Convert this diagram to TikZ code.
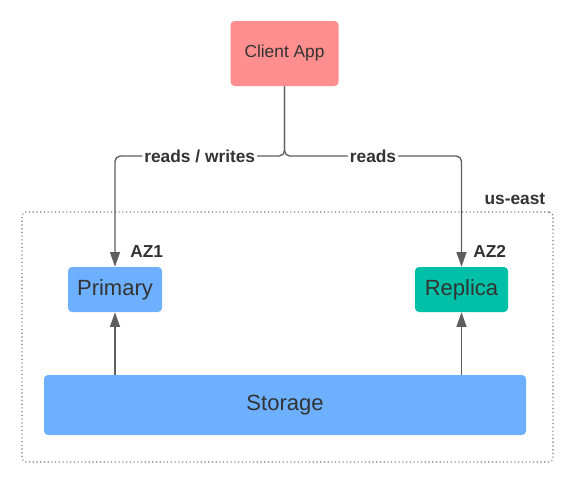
\documentclass[tikz,border=0pt]{standalone}
\usepackage{fontspec}
\setmainfont{Liberation Sans}
\usetikzlibrary{arrows.meta}
\definecolor{clientred}{HTML}{FF8F8F}
\definecolor{nodeblue}{HTML}{6CB0FF}
\definecolor{replicateal}{HTML}{00C1A8}
\definecolor{textgray}{HTML}{333333}
\definecolor{linegray}{HTML}{5E5E5E}
\definecolor{regiongray}{HTML}{707070}

\begin{document}
\begin{tikzpicture}[x=0.75pt,y=-0.75pt]

\tikzset{
  box/.style={rounded corners=3pt, inner sep=0pt, text=textgray, font=\fontsize{16.5}{19}\selectfont},
  link/.style={draw=linegray, line width=1pt, -{Triangle[length=11pt,width=7.5pt]}},
  tag/.style={font=\bfseries\fontsize{13}{15}\selectfont, text=textgray, inner sep=0pt},
}
\useasboundingbox (0,0) rectangle (574,483);

\node[draw=regiongray, line width=0.8pt, dotted, rounded corners=3pt, minimum width=398.25pt, minimum height=187.5pt] (Region) at (287.5,337) {};
\node[box, fill=clientred, minimum width=81pt, minimum height=48.75pt, font=\fontsize{13}{15}\selectfont] (Client) at (284.5,53.5) {Client App};
\node[box, fill=nodeblue, minimum width=70.5pt, minimum height=33.75pt] (Primary) at (115,289.5) {Primary};
\node[box, fill=replicateal, minimum width=69.75pt, minimum height=33.75pt] (Replica) at (461.5,289.5) {Replica};
\node[box, fill=nodeblue, minimum width=361.5pt, minimum height=45pt] (Storage) at (285,405) {Storage};

\node[tag, anchor=base east] at ([xshift=-6pt,yshift=5.25pt]Region.north east) {us-east};
\node[tag, anchor=base east] at ([xshift=0.75pt,yshift=6.75pt]Primary.north east) {AZ1};
\node[tag, anchor=base east] at ([xshift=-1.5pt,yshift=6.75pt]Replica.north east) {AZ2};

\coordinate (S) at (284.5,156);
\draw[link, rounded corners=4pt] (Client.south) -- (S) -| node[pos=0.25, tag, fill=white, inner sep=1.5pt] {reads / writes} (Primary.north);
\draw[link, rounded corners=4pt] (Client.south) -- (S) -| node[pos=0.25, tag, fill=white, inner sep=1.5pt] {reads} (Replica.north);

\draw[link] (Storage.north -| Primary) -- (Primary.south);
\draw[link] (Storage.north -| Replica) -- (Replica.south);

\end{tikzpicture}
\end{document}
